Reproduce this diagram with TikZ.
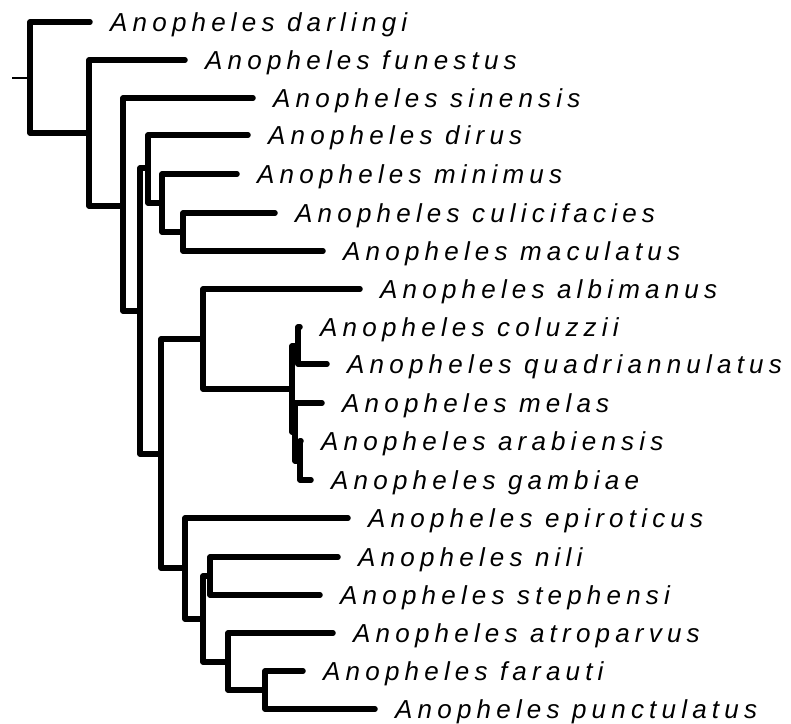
\documentclass[tikz,border=0pt]{standalone}
\usepackage{fontspec}
\usepackage{tikz}
\usetikzlibrary{positioning}
\newfontfamily\taxonfont{Liberation Sans}[LetterSpace=20]

\begin{document}
\begin{tikzpicture}[x=1pt, y=-1pt,
  branch/.style={line width=5.5pt, line cap=round, line join=round},
  taxon/.style={font=\taxonfont\itshape\fontsize{26}{31}\selectfont,
    inner sep=0pt, text height=18.6pt, text depth=0pt, anchor=west},
  node distance=0pt and 20pt
]
\useasboundingbox (0,0) rectangle (791,723);

% internal nodes
\coordinate (stub) at (12,78);
\coordinate (r0)  at (30,78);
\coordinate (n1)  at (89,133);
\coordinate (n2)  at (123,206);
\coordinate (n3)  at (140,311);
\coordinate (n4)  at (148,168);
\coordinate (n5)  at (162,203);
\coordinate (n6)  at (183,232);
\coordinate (n7)  at (161,454);
\coordinate (n8)  at (203,339);
\coordinate (gam) at (292,389);
\coordinate (cq)  at (298,346);
\coordinate (mag) at (295,432);
\coordinate (ag)  at (300,461);
\coordinate (n9)  at (185,568);
\coordinate (n10) at (203,619);
\coordinate (ns)  at (210,576);
\coordinate (n11) at (228,662);
\coordinate (fp)  at (265,690);

% tips
\coordinate (darl) at (90,22);
\coordinate (fune) at (185,60);
\coordinate (sine) at (253,98);
\coordinate (diru) at (248,135);
\coordinate (mini) at (237,174);
\coordinate (culi) at (275,213);
\coordinate (macu) at (323,251);
\coordinate (albi) at (360,289);
\coordinate (colu) at (300,327);
\coordinate (quad) at (327,364);
\coordinate (mela) at (322,403);
\coordinate (arab) at (301,441);
\coordinate (gamb) at (311,480);
\coordinate (epir) at (348,518);
\coordinate (nili) at (338,557);
\coordinate (step) at (320,595);
\coordinate (atro) at (333,633);
\coordinate (fara) at (303,671);
\coordinate (punc) at (375,709);

\foreach \t/\s in {darl/darlingi, fune/funestus, sine/sinensis, diru/dirus,
    mini/minimus, culi/culicifacies, macu/maculatus, albi/albimanus,
    colu/coluzzii, quad/quadriannulatus, mela/melas, arab/arabiensis,
    gamb/gambiae, epir/epiroticus, nili/nili, step/stephensi,
    atro/atroparvus, fara/farauti, punc/punctulatus}
  \node[taxon, right=of \t] (l-\t) {Anopheles \s};

\draw[line width=1.3pt] (stub) -- (r0);
\foreach \a/\b in {r0/darl, r0/n1, n1/fune, n1/n2, n2/sine, n2/n3,
    n3/n4, n3/n7, n4/diru, n4/n5, n5/mini, n5/n6, n6/culi, n6/macu,
    n7/n8, n7/n9, n8/albi, n8/gam, gam/cq, gam/mag, cq/colu, cq/quad,
    mag/mela, mag/ag, ag/arab, ag/gamb, n9/epir, n9/n10, n10/ns, n10/n11,
    ns/nili, ns/step, n11/atro, n11/fp, fp/fara, fp/punc}
  \draw[branch] (\a) |- (\b);
\end{tikzpicture}
\end{document}
